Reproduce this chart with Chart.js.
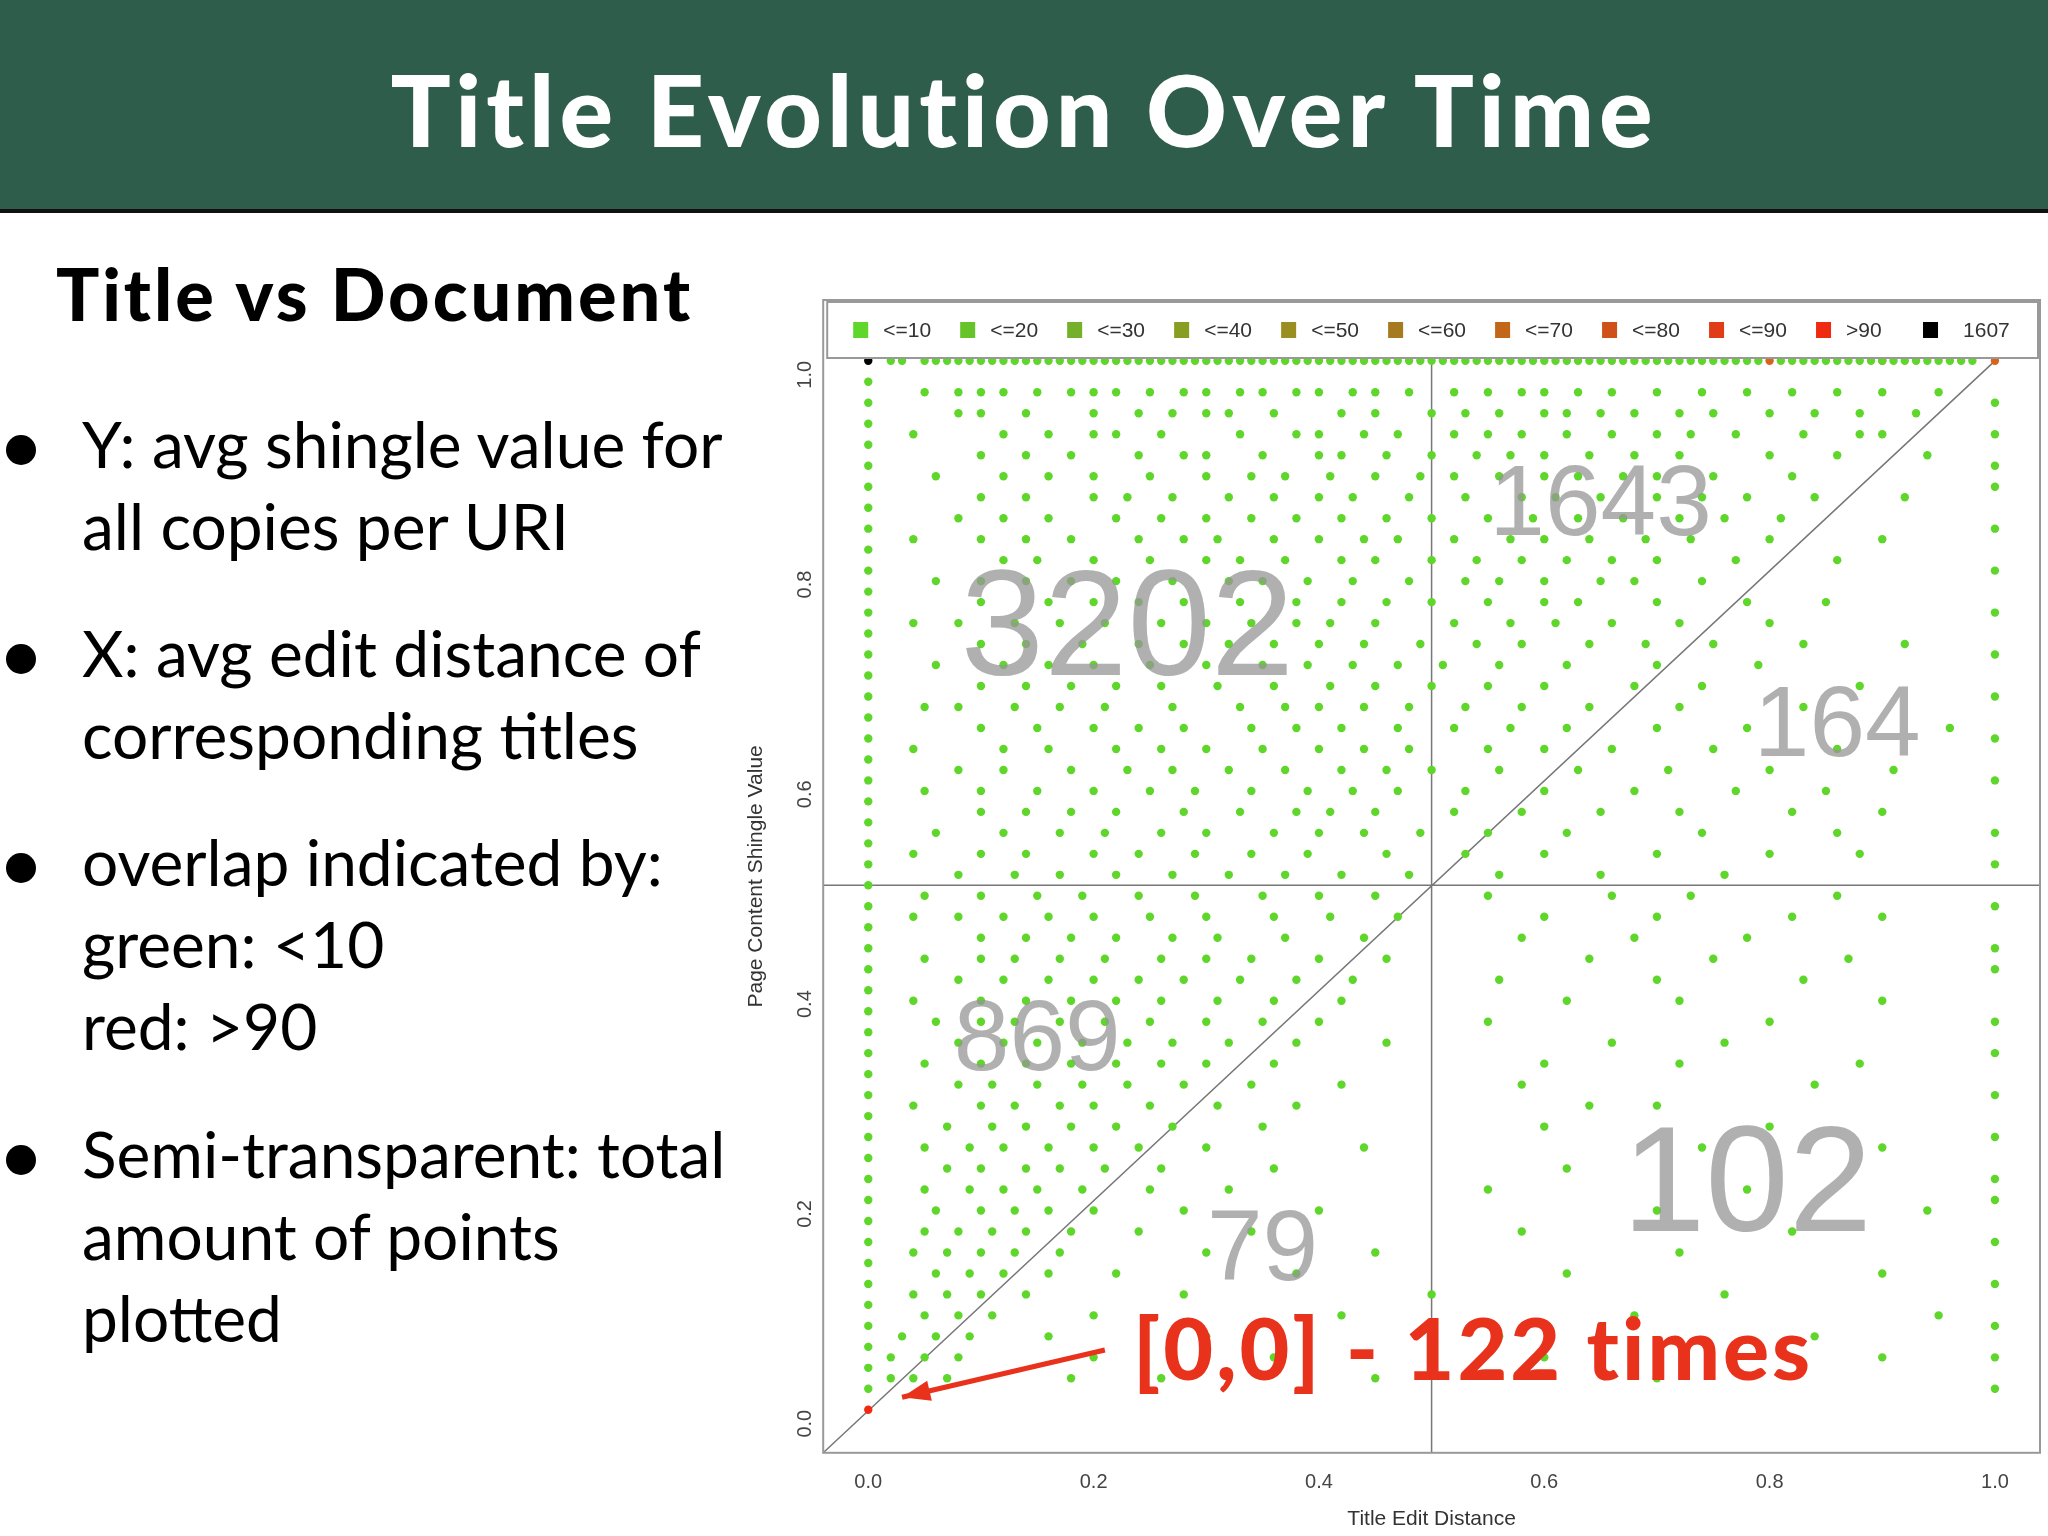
<!DOCTYPE html>
<html><head><meta charset="utf-8">
<script src="https://cdn.jsdelivr.net/npm/chart.js@4"></script>
<style>
body{margin:0;width:2048px;height:1536px;background:#fff;position:relative;overflow:hidden;font-family:Lato,"Open Sans",sans-serif}
#hdr{position:absolute;left:0;top:0;width:2048px;height:209px;background:#2f5d4b;border-bottom:4px solid #111}
#hdr h1{margin:0;position:absolute;left:0;width:2048px;top:48px;text-align:center;color:#fff;font-size:100px;font-weight:900;letter-spacing:5px;font-family:Lato,sans-serif}
#sub{position:absolute;left:56px;top:250px;font-size:72px;font-weight:900;color:#000;letter-spacing:3px}
.b{position:absolute;left:82px;font-size:64px;line-height:82px;color:#000;letter-spacing:0px}
.b:before{content:"";position:absolute;left:-76px;top:32px;width:30px;height:30px;border-radius:50%;background:#000}
#wrap{position:absolute;left:740px;top:280px;width:1308px;height:1256px}
</style></head><body>
<div id="hdr"><h1>Title Evolution Over Time</h1></div>
<div id="sub">Title vs Document</div>
<div class="b" style="top:403px">Y: avg shingle value for<br>all copies per URI</div>
<div class="b" style="top:612px">X: avg edit distance of<br>corresponding titles</div>
<div class="b" style="top:821px">overlap indicated by:<br>green: &lt;10<br>red: &gt;90</div>
<div class="b" style="top:1113px">Semi-transparent: total<br>amount of points<br>plotted</div>
<div id="wrap"><canvas id="c"></canvas></div>
<script>
const legendLabels=["<=10","<=20","<=30","<=40","<=50","<=60","<=70","<=80","<=90",">90","1607"];
const legendColors=["#5fd62a","#66c42a","#74b02a","#889e22","#9a8e20","#a67a1e","#c2661a","#d0501a","#e03c18","#f02a10","#000000"];
const xTicks=[0,0.2,0.4,0.6,0.8,1.0];
const yTicks=[0,0.2,0.4,0.6,0.8,1.0];
const rowY=[0.97,0.95,0.93,0.91,0.89,0.87,0.85,0.83,0.81,0.79,0.77,0.75,0.73,0.71,0.69,0.67,0.65,0.63,0.61,0.59,0.57,0.55,0.53,0.51,0.49,0.47,0.45,0.43,0.41,0.39,0.37,0.35,0.33,0.31,0.29,0.27,0.25,0.23,0.21,0.19,0.17,0.15,0.13,0.11,0.09,0.07,0.05,0.03];
const rowX=[
[0.05,0.08,0.1,0.12,0.15,0.18,0.2,0.22,0.25,0.28,0.3,0.33,0.35,0.38,0.4,0.43,0.45,0.48,0.52,0.55,0.58,0.6,0.63,0.66,0.7,0.74,0.78,0.82,0.86,0.9,0.95],
[0.08,0.1,0.14,0.2,0.24,0.27,0.3,0.32,0.36,0.42,0.45,0.5,0.53,0.56,0.6,0.62,0.65,0.68,0.72,0.75,0.8,0.84,0.88,0.93],
[0.04,0.12,0.16,0.2,0.22,0.26,0.33,0.38,0.4,0.44,0.47,0.52,0.55,0.58,0.62,0.66,0.7,0.73,0.77,0.83,0.88,0.9],
[0.1,0.14,0.18,0.24,0.28,0.3,0.35,0.4,0.42,0.46,0.5,0.54,0.57,0.6,0.64,0.68,0.72,0.8,0.86,0.94],
[0.06,0.12,0.16,0.2,0.25,0.3,0.34,0.37,0.41,0.45,0.49,0.52,0.56,0.6,0.63,0.67,0.7,0.75,0.82],
[0.1,0.14,0.2,0.23,0.27,0.32,0.36,0.4,0.43,0.48,0.53,0.58,0.61,0.65,0.7,0.74,0.78,0.84,0.92],
[0.08,0.12,0.16,0.22,0.26,0.3,0.34,0.38,0.42,0.46,0.5,0.55,0.59,0.63,0.67,0.72,0.76,0.81],
[0.04,0.1,0.14,0.18,0.24,0.28,0.31,0.36,0.4,0.44,0.47,0.52,0.57,0.6,0.64,0.69,0.73,0.8,0.9],
[0.12,0.15,0.2,0.25,0.3,0.33,0.37,0.42,0.45,0.5,0.54,0.58,0.62,0.66,0.7,0.77,0.86],
[0.06,0.1,0.14,0.18,0.22,0.27,0.32,0.35,0.39,0.43,0.48,0.53,0.56,0.6,0.65,0.68,0.74],
[0.1,0.16,0.2,0.24,0.28,0.33,0.38,0.42,0.46,0.5,0.55,0.6,0.63,0.7,0.78,0.85],
[0.04,0.08,0.13,0.17,0.21,0.26,0.3,0.34,0.38,0.41,0.45,0.52,0.57,0.61,0.66,0.72,0.8],
[0.1,0.14,0.19,0.24,0.28,0.32,0.36,0.4,0.44,0.49,0.54,0.58,0.64,0.69,0.75,0.83,0.92],
[0.06,0.12,0.16,0.2,0.25,0.3,0.35,0.39,0.43,0.47,0.51,0.56,0.62,0.7,0.79],
[0.1,0.14,0.18,0.22,0.26,0.31,0.36,0.41,0.45,0.5,0.55,0.6,0.68,0.74,0.88],
[0.05,0.08,0.13,0.17,0.21,0.27,0.33,0.37,0.4,0.44,0.48,0.53,0.58,0.64,0.72,0.83],
[0.1,0.15,0.2,0.24,0.28,0.34,0.38,0.42,0.47,0.52,0.57,0.62,0.7,0.78,0.96],
[0.04,0.12,0.16,0.22,0.26,0.3,0.35,0.4,0.44,0.48,0.55,0.6,0.66,0.75,0.86],
[0.08,0.12,0.18,0.23,0.27,0.32,0.37,0.42,0.46,0.5,0.56,0.63,0.71,0.8,0.91],
[0.05,0.1,0.15,0.2,0.25,0.29,0.34,0.39,0.43,0.47,0.53,0.6,0.68,0.77,0.85],
[0.1,0.14,0.18,0.22,0.28,0.33,0.38,0.41,0.45,0.52,0.58,0.65,0.72,0.82,0.9],
[0.06,0.12,0.17,0.21,0.26,0.3,0.36,0.4,0.44,0.49,0.55,0.62,0.74,0.86],
[0.04,0.1,0.14,0.2,0.24,0.29,0.34,0.39,0.46,0.53,0.6,0.7,0.8,0.88],
[0.08,0.13,0.17,0.22,0.27,0.32,0.37,0.42,0.48,0.56,0.65,0.76],
[0.05,0.1,0.15,0.19,0.24,0.29,0.35,0.4,0.45,0.55,0.66,0.73,0.86],
[0.04,0.08,0.12,0.16,0.2,0.25,0.3,0.36,0.41,0.47,0.6,0.7,0.82,0.9],
[0.1,0.14,0.18,0.22,0.27,0.31,0.37,0.44,0.58,0.68,0.78],
[0.05,0.1,0.13,0.17,0.21,0.26,0.3,0.34,0.4,0.46,0.64,0.75,0.87],
[0.08,0.12,0.16,0.2,0.24,0.28,0.33,0.38,0.43,0.56,0.7,0.83],
[0.04,0.1,0.14,0.18,0.22,0.26,0.31,0.36,0.42,0.62,0.72,0.9],
[0.06,0.1,0.13,0.17,0.21,0.25,0.3,0.35,0.4,0.55,0.8],
[0.08,0.12,0.15,0.19,0.23,0.27,0.32,0.38,0.46,0.66,0.76],
[0.05,0.1,0.14,0.18,0.22,0.26,0.3,0.36,0.6,0.72,0.88],
[0.08,0.11,0.15,0.19,0.23,0.28,0.34,0.42,0.58,0.84],
[0.04,0.1,0.13,0.17,0.2,0.25,0.31,0.38,0.64,0.7],
[0.07,0.11,0.14,0.18,0.22,0.27,0.35,0.6,0.8],
[0.05,0.09,0.12,0.16,0.2,0.24,0.3,0.44,0.74,0.9],
[0.07,0.1,0.14,0.17,0.21,0.26,0.36,0.62],
[0.05,0.09,0.12,0.15,0.19,0.25,0.32,0.55,0.78],
[0.06,0.1,0.13,0.16,0.2,0.28,0.4,0.7,0.94],
[0.05,0.08,0.11,0.14,0.18,0.24,0.34,0.58,0.82],
[0.04,0.07,0.1,0.13,0.17,0.3,0.45,0.72],
[0.06,0.09,0.12,0.16,0.22,0.38,0.62,0.9],
[0.04,0.07,0.1,0.14,0.28,0.5,0.76],
[0.05,0.08,0.11,0.2,0.42,0.68,0.95],
[0.03,0.06,0.09,0.16,0.3,0.56,0.84],
[0.02,0.05,0.08,0.2,0.36,0.6,0.9],
[0.02,0.04,0.07,0.18,0.26,0.45,0.7]
];
const colX0Y=[0.02,0.04,0.06,0.08,0.1,0.12,0.14,0.16,0.18,0.2,0.22,0.24,0.26,0.28,0.3,0.32,0.34,0.36,0.38,0.4,0.42,0.44,0.46,0.48,0.5,0.52,0.54,0.56,0.58,0.6,0.62,0.64,0.66,0.68,0.7,0.72,0.74,0.76,0.78,0.8,0.82,0.84,0.86,0.88,0.9,0.92,0.94,0.96,0.98];
const colX1Y=[0.02,0.05,0.08,0.12,0.16,0.2,0.22,0.26,0.3,0.34,0.37,0.42,0.44,0.48,0.52,0.55,0.6,0.64,0.68,0.72,0.76,0.8,0.84,0.88,0.9,0.93,0.96];
const topRowX=[0.02,0.03,0.05,0.06,0.07,0.08,0.09,0.1,0.11,0.12,0.13,0.14,0.15,0.16,0.17,0.18,0.19,0.2,0.21,0.22,0.23,0.24,0.25,0.26,0.27,0.28,0.29,0.3,0.31,0.32,0.33,0.34,0.35,0.36,0.37,0.38,0.39,0.4,0.41,0.42,0.43,0.44,0.45,0.46,0.47,0.48,0.49,0.5,0.51,0.52,0.53,0.54,0.55,0.56,0.57,0.58,0.59,0.6,0.61,0.62,0.63,0.64,0.65,0.66,0.67,0.68,0.69,0.7,0.71,0.72,0.73,0.74,0.75,0.76,0.77,0.78,0.79,0.81,0.82,0.83,0.84,0.85,0.86,0.87,0.88,0.89,0.9,0.91,0.92,0.93,0.94,0.95,0.96,0.97,0.98];
const hotX=[0.8,0.9,1.0];const hotY=[1,1,1];
const bigNums=[["3202",0.23,0.74,150],["1643",0.65,0.86,100],["164",0.86,0.65,100],["869",0.15,0.35,100],["79",0.35,0.15,100],["102",0.78,0.21,150]];

const green=[];
rowY.forEach((y,i)=>rowX[i].forEach(x=>green.push({x,y})));
colX0Y.forEach(y=>green.push({x:0,y}));
colX1Y.forEach(y=>green.push({x:1,y}));
topRowX.forEach(x=>green.push({x,y:1}));
const hot=hotX.map((x,i)=>({x,y:hotY[i]}));

const deco={id:'deco',
beforeDatasetsDraw(ch){const {ctx,chartArea:a,scales:{x,y}}=ch;ctx.save();
 ctx.strokeStyle='#777';ctx.lineWidth=1.5;
 ctx.beginPath();ctx.moveTo(x.getPixelForValue(0.5),a.top);ctx.lineTo(x.getPixelForValue(0.5),a.bottom);
 ctx.moveTo(a.left,y.getPixelForValue(0.5));ctx.lineTo(a.right,y.getPixelForValue(0.5));
 ctx.moveTo(a.left,a.bottom);ctx.lineTo(x.getPixelForValue(1),y.getPixelForValue(1));ctx.lineTo(a.right,y.getPixelForValue(1.04));ctx.stroke();
 ctx.strokeStyle='#999';ctx.lineWidth=2;ctx.strokeRect(a.left,a.top,a.right-a.left,a.bottom-a.top);
 ctx.restore();},
afterDatasetsDraw(ch){const {ctx,chartArea:a,scales:{x,y}}=ch;ctx.save();
 ctx.textAlign='center';ctx.textBaseline='middle';
 bigNums.forEach(([t,vx,vy,s])=>{ctx.font=s+'px "Liberation Sans"';ctx.fillStyle='rgba(150,150,150,0.75)';ctx.fillText(t,x.getPixelForValue(vx),y.getPixelForValue(vy));});
 const lt=a.top+2,lh=56;ctx.fillStyle='#fff';ctx.fillRect(a.left+4,lt,a.right-a.left-6,lh);
 ctx.strokeStyle='#999';ctx.lineWidth=2;ctx.strokeRect(a.left+4,lt,a.right-a.left-6,lh);
 ctx.font='21px "Liberation Sans"';ctx.textAlign='left';
 const step=(a.right-a.left-40)/legendLabels.length;
 legendLabels.forEach((l,i)=>{const px=a.left+30+i*step;ctx.fillStyle=legendColors[i];ctx.fillRect(px,lt+lh/2-8,15,16);ctx.fillStyle='#333';ctx.fillText(l,px+(i==10?40:30),lt+lh/2+1);});
 const ax0=x.getPixelForValue(0.21),ay0=y.getPixelForValue(0.057),ax1=x.getPixelForValue(0.03),ay1=y.getPixelForValue(0.012);
 ctx.strokeStyle='#e8321c';ctx.fillStyle='#e8321c';ctx.lineWidth=5;ctx.beginPath();ctx.moveTo(ax0,ay0);ctx.lineTo(ax1,ay1);ctx.stroke();
 const ang=Math.atan2(ay1-ay0,ax1-ax0);ctx.beginPath();ctx.moveTo(ax1,ay1);
 ctx.lineTo(ax1-30*Math.cos(ang-0.35),ay1-30*Math.sin(ang-0.35));ctx.lineTo(ax1-30*Math.cos(ang+0.35),ay1-30*Math.sin(ang+0.35));ctx.fill();
 ctx.font='900 86px Lato';ctx.letterSpacing='3px';ctx.fillText('[0,0] - 122 times',x.getPixelForValue(0.235),y.getPixelForValue(0.055));
 ctx.restore();}};

new Chart(document.getElementById('c'),{type:'scatter',
data:{datasets:[
 {data:green,backgroundColor:'#5fd62a',borderWidth:0,pointRadius:4.2},
 {data:hot,backgroundColor:'#d8641c',borderWidth:0,pointRadius:4.2},
 {data:[{x:0,y:1}],backgroundColor:'#000',borderWidth:0,pointRadius:4.2},
 {data:[{x:0,y:0}],backgroundColor:'#f02a10',borderWidth:0,pointRadius:4.2}]},
options:{responsive:true,maintainAspectRatio:false,animation:false,events:[],
 layout:{padding:{right:8,top:12}},
 plugins:{legend:{display:false},tooltip:{enabled:false}},
 scales:{
  x:{type:'linear',min:-0.04,max:1.04,afterBuildTicks:s=>{s.ticks=xTicks.map(v=>({value:v}))},
   grid:{display:false,drawTicks:true,tickLength:10},border:{display:false},
   ticks:{callback:v=>v.toFixed(1),color:'#444',font:{family:'Liberation Sans',size:20},padding:8},
   title:{display:true,text:'Title Edit Distance',color:'#333',font:{family:'Liberation Sans',size:21}}},
  y:{type:'linear',min:-0.041,max:1.058,afterBuildTicks:s=>{s.ticks=yTicks.map(v=>({value:v}))},
   grid:{display:false,tickLength:10},border:{display:false},
   ticks:{callback:v=>v.toFixed(1),color:'#444',font:{family:'Liberation Sans',size:20},minRotation:90,maxRotation:90,padding:8},
   title:{display:true,text:'Page Content Shingle Value',color:'#333',font:{family:'Liberation Sans',size:21}}}}},
plugins:[deco]});
</script></body></html>
